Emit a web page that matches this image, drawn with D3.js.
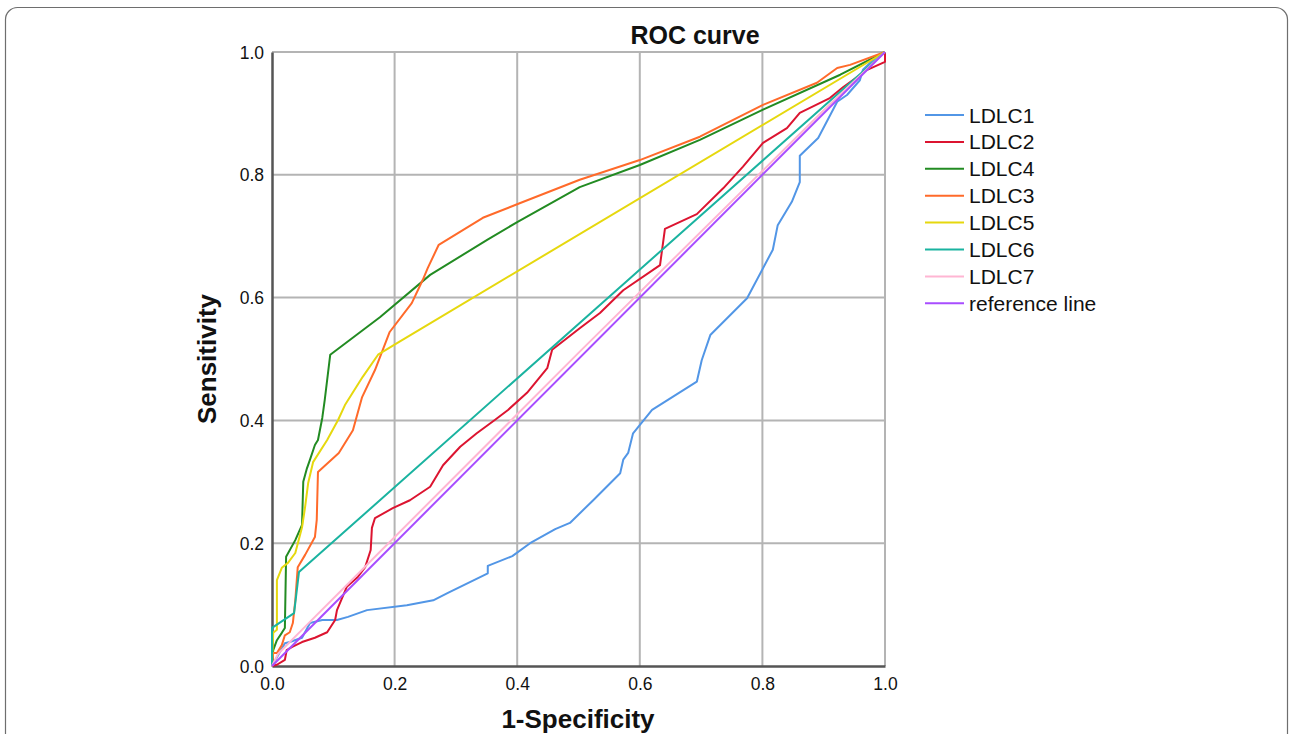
<!DOCTYPE html>
<html>
<head>
<meta charset="utf-8">
<script src="https://cdn.jsdelivr.net/npm/d3@7"></script>
<style>
  body { margin: 0; background: #fff; }
  svg { display: block; font-family: "Liberation Sans", Arial, sans-serif; }
</style>
</head>
<body>
<div id="chart"></div>
<script>
// ROC points: [1-specificity, sensitivity]
var ldlc1 = [[0,0],[0.021,0.037],[0.029,0.039],[0.049,0.046],[0.062,0.070],[0.082,0.075],[0.106,0.075],
  [0.124,0.080],[0.155,0.091],[0.220,0.099],[0.263,0.107],[0.287,0.119],[0.352,0.151],[0.352,0.163],
  [0.392,0.179],[0.421,0.200],[0.462,0.223],[0.486,0.233],[0.524,0.270],[0.568,0.314],[0.573,0.336],
  [0.581,0.347],[0.589,0.379],[0.620,0.417],[0.693,0.463],[0.701,0.498],[0.715,0.539],[0.775,0.599],
  [0.817,0.678],[0.825,0.718],[0.848,0.756],[0.861,0.788],[0.861,0.831],[0.891,0.860],[0.922,0.919],
  [0.938,0.930],[0.959,0.954],[0.964,0.971],[0.987,0.993],[1,1]];
var ldlc2 = [[0,0],[0.008,0.002],[0.021,0.010],[0.024,0.026],[0.033,0.031],[0.049,0.039],[0.070,0.046],
  [0.090,0.055],[0.103,0.075],[0.106,0.091],[0.122,0.129],[0.140,0.145],[0.152,0.161],[0.161,0.189],
  [0.163,0.225],[0.168,0.241],[0.197,0.257],[0.225,0.270],[0.258,0.292],[0.279,0.327],[0.307,0.357],
  [0.334,0.379],[0.364,0.401],[0.385,0.417],[0.416,0.445],[0.449,0.485],[0.457,0.515],[0.502,0.550],
  [0.535,0.575],[0.573,0.612],[0.633,0.653],[0.641,0.712],[0.693,0.736],[0.736,0.778],[0.768,0.813],
  [0.801,0.852],[0.840,0.876],[0.861,0.901],[0.910,0.925],[0.932,0.943],[0.971,0.971],[1,0.984],[1,1]];
var ldlc4 = [[0,0],[0,0.007],[0.002,0.026],[0.008,0.042],[0.016,0.054],[0.021,0.062],[0.023,0.178],
  [0.038,0.205],[0.049,0.230],[0.051,0.300],[0.057,0.322],[0.062,0.336],[0.070,0.360],[0.075,0.368],
  [0.082,0.404],[0.086,0.433],[0.095,0.507],[0.176,0.568],[0.258,0.637],[0.351,0.694],[0.400,0.723],
  [0.502,0.780],[0.600,0.816],[0.698,0.857],[0.801,0.906],[0.927,0.963],[1,1]];
var ldlc3 = [[0,0],[0,0.005],[0.002,0.021],[0.008,0.021],[0.016,0.034],[0.021,0.050],[0.029,0.055],
  [0.034,0.070],[0.038,0.107],[0.042,0.161],[0.054,0.181],[0.070,0.210],[0.073,0.238],[0.075,0.316],
  [0.109,0.347],[0.132,0.384],[0.147,0.438],[0.168,0.482],[0.192,0.544],[0.228,0.591],[0.246,0.629],
  [0.254,0.648],[0.272,0.686],[0.344,0.730],[0.405,0.754],[0.502,0.792],[0.600,0.824],[0.698,0.862],
  [0.801,0.914],[0.889,0.950],[0.922,0.974],[0.943,0.979],[1,1]];
var ldlc5 = [[0,0],[0,0.007],[0.002,0.054],[0.008,0.059],[0.008,0.140],[0.016,0.160],[0.026,0.168],
  [0.038,0.184],[0.049,0.226],[0.054,0.259],[0.059,0.298],[0.067,0.332],[0.090,0.368],[0.108,0.401],
  [0.119,0.425],[0.148,0.471],[0.173,0.507],[0.204,0.526],[1,1]];
var ldlc6 = [[0,0],[0,0.062],[0.036,0.086],[0.044,0.153],[1,1]];
var ldlc7 = [[0,0],[0.010,0.020],[0.050,0.060],[0.120,0.130],[0.500,0.510],[0.900,0.905],[1,1]];
var refLine = [[0,0],[1,1]];

var seriesNames = ["LDLC1", "LDLC2", "LDLC4", "LDLC3", "LDLC5", "LDLC6", "LDLC7", "reference line"];
var seriesData = [ldlc1, ldlc2, ldlc4, ldlc3, ldlc5, ldlc6, ldlc7, refLine];
var seriesColors = ["#5296e6", "#dc1430", "#228b22", "#ff6a2a", "#e6d80e", "#1ab3a0", "#ffb6d3", "#a84dff"];
var tickValues = [0, 0.2, 0.4, 0.6, 0.8, 1.0];

var svgWidth = 1290;
var svgHeight = 734;

var margin = { top: 52, left: 272 };
var width = 613;
var height = 614;

var svg = d3.select("#chart")
  .append("svg")
  .attr("width", svgWidth)
  .attr("height", svgHeight);

// rounded frame around the figure
svg.append("rect")
  .attr("x", 5.5)
  .attr("y", 7.5)
  .attr("width", 1282)
  .attr("height", 760)
  .attr("rx", 12)
  .attr("fill", "none")
  .attr("stroke", "#6e6e6e")
  .attr("stroke-width", 1.2);

var chartGroup = svg.append("g")
  .attr("transform", `translate(${margin.left}, ${margin.top})`);

var xScale = d3.scaleLinear().domain([0, 1]).range([0, width]);
var yScale = d3.scaleLinear().domain([0, 1]).range([height, 0]);

// grid lines
chartGroup.append("g")
  .selectAll("line.vgrid")
  .data(tickValues.slice(1))
  .enter()
  .append("line")
  .attr("x1", d => xScale(d))
  .attr("x2", d => xScale(d))
  .attr("y1", 0)
  .attr("y2", height)
  .attr("stroke", "#b4b4b4")
  .attr("stroke-width", 2);

chartGroup.append("g")
  .selectAll("line.hgrid")
  .data(tickValues.slice(1))
  .enter()
  .append("line")
  .attr("x1", 0)
  .attr("x2", width)
  .attr("y1", d => yScale(d))
  .attr("y2", d => yScale(d))
  .attr("stroke", "#b4b4b4")
  .attr("stroke-width", 2);

// axes: no ticks, only the line and labels
var bottomAxis = d3.axisBottom(xScale).tickValues(tickValues).tickSize(0).tickPadding(12).tickFormat(d3.format(".1f"));
var leftAxis = d3.axisLeft(yScale).tickValues(tickValues).tickSize(0).tickPadding(8).tickFormat(d3.format(".1f"));

var xAxis = chartGroup.append("g")
  .attr("transform", `translate(0, ${height})`)
  .call(bottomAxis);
var yAxis = chartGroup.append("g")
  .call(leftAxis);

[xAxis, yAxis].forEach(function(ax) {
  ax.select(".domain").attr("stroke", "#555").attr("stroke-width", 2.5);
  ax.selectAll("text")
    .attr("fill", "#111")
    .style("font-size", "17.5px")
    .style("font-family", "Liberation Sans, Arial, sans-serif");
});
yAxis.selectAll("text").attr("dy", "0.35em");

// ROC lines
var line = d3.line()
  .x(d => xScale(d[0]))
  .y(d => yScale(d[1]));

chartGroup.append("g")
  .selectAll("path")
  .data(seriesData)
  .enter()
  .append("path")
  .attr("d", d => line(d))
  .attr("fill", "none")
  .attr("stroke", (d, i) => seriesColors[i])
  .attr("stroke-width", 2)
  .attr("stroke-linejoin", "round");

// titles
svg.append("text")
  .attr("x", 695)
  .attr("y", 44)
  .attr("text-anchor", "middle")
  .style("font-size", "25px")
  .style("font-weight", "bold")
  .attr("fill", "#111")
  .text("ROC curve");

svg.append("text")
  .attr("transform", "translate(216, 359) rotate(-90)")
  .attr("text-anchor", "middle")
  .style("font-size", "26px")
  .style("font-weight", "bold")
  .attr("fill", "#111")
  .text("Sensitivity");

svg.append("text")
  .attr("x", 578)
  .attr("y", 728)
  .attr("text-anchor", "middle")
  .style("font-size", "26px")
  .style("font-weight", "bold")
  .attr("fill", "#111")
  .text("1-Specificity");

// legend
var legend = svg.append("g")
  .attr("transform", "translate(925, 115)");

var legendRows = legend.selectAll("g")
  .data(seriesNames)
  .enter()
  .append("g")
  .attr("transform", (d, i) => `translate(0, ${i * 26.9})`);

legendRows.append("line")
  .attr("x1", 0)
  .attr("x2", 39)
  .attr("stroke", (d, i) => seriesColors[i])
  .attr("stroke-width", 2);

legendRows.append("text")
  .attr("x", 44)
  .attr("dy", "0.36em")
  .style("font-size", "21px")
  .attr("fill", "#111")
  .text(d => d);
</script>
</body>
</html>
